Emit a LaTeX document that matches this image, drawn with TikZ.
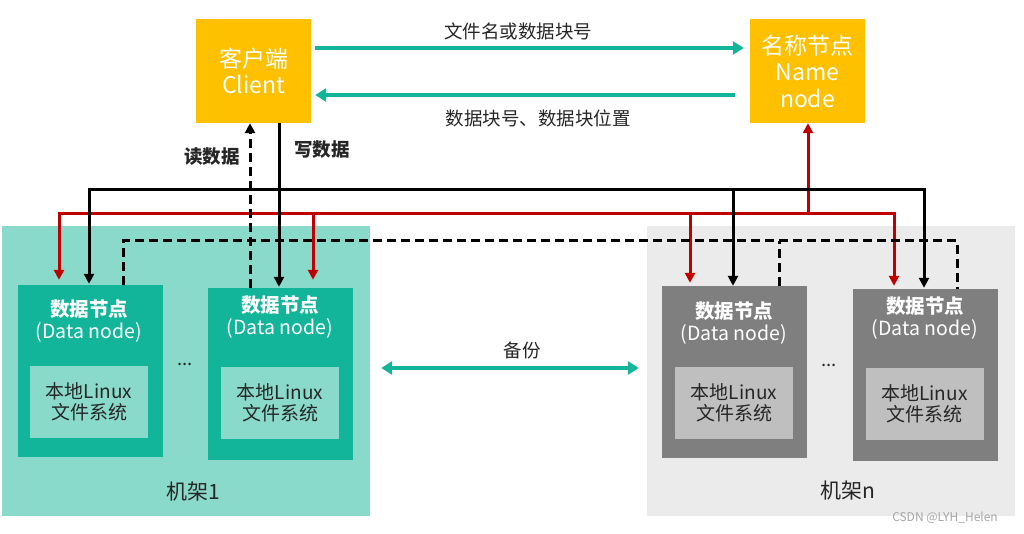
\documentclass[tikz,border=0pt]{standalone}
\usepackage{fontspec}
\setmainfont{Noto Sans CJK SC}
\usetikzlibrary{arrows.meta}
\definecolor{gold}{HTML}{FFC000}
\definecolor{tealdark}{HTML}{12B59A}
\definecolor{teallight}{HTML}{8ADACB}
\definecolor{greydark}{HTML}{7F7F7F}
\definecolor{greylight}{HTML}{BFBFBF}
\definecolor{greybg}{HTML}{EBEBEB}
\definecolor{redline}{HTML}{C00000}
\definecolor{txt}{HTML}{262626}
\definecolor{wm}{HTML}{A6A6A6}
\newcommand\fsLab{\fontsize{18.5}{21}\selectfont}
\newcommand\fsDn{\fontsize{19.5}{22}\selectfont}
\newcommand\fsFs{\fontsize{19}{21.5}\selectfont}
\newcommand\fsBig{\fontsize{23}{26.5}\selectfont}
\newcommand\fsRack{\fontsize{21}{24}\selectfont}
\newcommand\fsWm{\fontsize{12}{14}\selectfont}
\tikzset{
  bhead/.tip={Triangle[width=10pt,length=10pt]},
  thead/.tip={Triangle[width=13pt,length=11pt]},
  box/.style={rectangle, inner sep=0pt, anchor=center, draw=none},
  topbox/.style={box, fill=gold, minimum width=115pt, minimum height=104pt, text=white, align=center, font=\fsBig},
  rackbox/.style={box, minimum width=368pt, minimum height=290pt},
  dnbox/.style={box, minimum width=145pt, minimum height=172pt},
  dntitle/.style={inner sep=0pt, text=white, align=center, font=\fsDn},
  fsbox/.style={box, minimum width=118pt, minimum height=72pt, align=center, font=\fsFs, text=txt},
  lab/.style={inner sep=0pt, text=txt, font=\fsLab},
  blk/.style={line width=3pt, draw=black},
  redl/.style={line width=3pt, draw=redline},
  dashl/.style={line width=3pt, draw=black, dash pattern=on 9pt off 5pt},
  tealarr/.style={line width=4.5pt, draw=tealdark, -{thead}},
}
\begin{document}
\begin{tikzpicture}[x=1pt,y=-1pt]
\useasboundingbox (0,0) rectangle (1024,534);
% racks
\node[rackbox, fill=teallight] (rack1) at (186,371) {};
\node[rackbox, fill=greybg] (rackn) at (831,371) {};
\node[inner sep=0pt, text=txt, font=\fsRack] (rack1l) at (193,492) {机架1};
\node[inner sep=0pt, text=txt, font=\fsRack] (racknl) at (848,491) {机架n};
% top nodes
\node[topbox] (client) at (253.5,71) {客户端\\Client};
\node[topbox] (name) at (807.5,71) {名称节点\\Name\\node};
% data nodes
\node[dnbox, fill=tealdark] (dn1) at (90.5,371) {};
\node[dnbox, fill=tealdark] (dn2) at (280.5,374) {};
\node[dnbox, fill=greydark] (dn3) at (734.5,372) {};
\node[dnbox, fill=greydark] (dn4) at (925.5,375) {};
\node[dntitle] (dn1t) at (89,321) {\textbf{数据节点}\\(Data node)};
\node[dntitle] (dn2t) at (280,317) {\textbf{数据节点}\\(Data node)};
\node[dntitle] (dn3t) at (734,323) {\textbf{数据节点}\\(Data node)};
\node[dntitle] (dn4t) at (925,318) {\textbf{数据节点}\\(Data node)};
\node[fsbox, fill=teallight] (fs1) at (89,402) {本地Linux\\文件系统};
\node[fsbox, fill=teallight] (fs2) at (280,403) {本地Linux\\文件系统};
\node[fsbox, fill=greylight] (fs3) at (734,403) {本地Linux\\文件系统};
\node[fsbox, fill=greylight] (fs4) at (924.5,404) {本地Linux\\文件系统};
\node[lab] (dots1) at (185,364) {...};
\node[lab] (dots2) at (829,365) {...};
% labels
\node[lab] (l1) at (518,31) {文件名或数据块号};
\node[lab] (l2) at (538,118) {数据块号、数据块位置};
\node[lab] (lread) at (212,157) {\textbf{读数据}};
\node[lab] (lwrite) at (322,150) {\textbf{写数据}};
\node[lab] (lbak) at (522,350) {备份};
\node[inner sep=0pt, text=wm, font=\fsWm] (wmark) at (945,518) {CSDN @LYH\_Helen};
% teal arrows
\draw[tealarr, shorten <=4pt, shorten >=6pt] ([yshift=23pt]client.east) -- ([yshift=23pt]name.west);
\draw[tealarr, shorten <=15pt, shorten >=4pt] ([yshift=-24pt]name.west) -- ([yshift=-24pt]client.east);
\draw[line width=4.5pt, draw=tealdark, {thead}-{thead}, shorten <=11pt, shorten >=8pt] ([yshift=3pt]rack1.east) -- ([yshift=3pt]rackn.west);
% coordinates
\coordinate (bkL) at (89,190);
\coordinate (bkR) at (924,190);
\coordinate (bkB) at (733,190);
\coordinate (wr) at (279,190);
\coordinate (rdL) at (59,214);
\coordinate (rdR) at (894,214);
\coordinate (rdN) at (808,214);
\coordinate (rd2) at (313,214);
\coordinate (rd3) at (690,214);
\coordinate (dsL) at (123,241);
\coordinate (dsR) at (957,241);
\coordinate (dsB) at (779,241);
\coordinate (rdx) at (250,241);
% red lines
\draw[redl, {bhead}-{bhead}, shorten <=5pt, shorten >=3pt] (dn1.north -| rdL) -- (rdL) -- (rdR) -- (dn4.north -| rdR);
\draw[redl, -{bhead}] (rdN) -- (name.south -| rdN);
\draw[redl, -{bhead}, shorten >=8pt] (rd2) -- (dn2.north -| rd2);
\draw[redl, -{bhead}, shorten >=3pt] (rd3) -- (dn3.north -| rd3);
% black lines
\draw[blk, {bhead}-{bhead}, shorten <=1pt, shorten >=1pt] (dn1.north -| bkL) -- (bkL) -- (bkR) -- (dn4.north -| bkR);
\draw[blk, -{bhead}, shorten >=1pt] (client.south -| wr) -- (dn2.north -| wr);
\draw[blk, -{bhead}] (bkB) -- (dn3.north -| bkB);
% dashed lines
\draw[dashl] (dn1.north -| dsL) -- (dsL) -- (dsR) -- (dn4.north -| dsR);
\draw[dashl] (dn3.north -| dsB) -- (dsB);
\draw[dashl, -{bhead}] (dn2.north -| rdx) -- (client.south -| rdx);
\end{tikzpicture}
\end{document}
